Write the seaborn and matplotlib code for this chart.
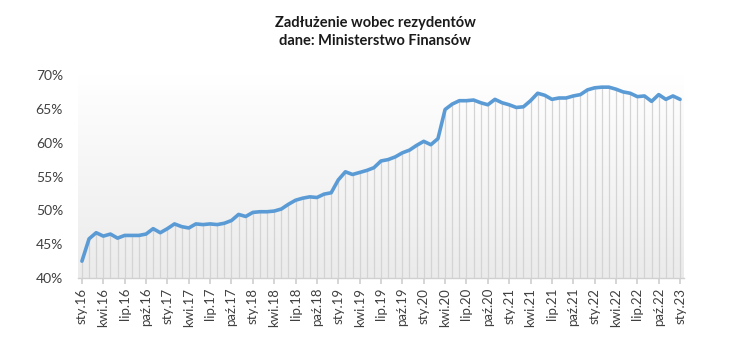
import numpy as np
import pandas as pd
import matplotlib
matplotlib.use("Agg")
import matplotlib.pyplot as plt
import seaborn as sns
from matplotlib.colors import LinearSegmentedColormap

# ---- data ----
months_pl = ["sty", "lut", "mar", "kwi", "maj", "cze", "lip", "sie", "wrz", "paź", "lis", "gru"]
years = [16, 17, 18, 19, 20, 21, 22, 23]
values = [
    42.5, 45.8, 46.7, 46.2, 46.5, 45.9, 46.3, 46.3, 46.3, 46.5, 47.3, 46.7,   # 2016
    47.3, 48.0, 47.6, 47.4, 48.0, 47.9, 48.0, 47.9, 48.1, 48.5, 49.4, 49.1,   # 2017
    49.7, 49.8, 49.8, 49.9, 50.2, 50.9, 51.5, 51.8, 52.0, 51.9, 52.4, 52.6,   # 2018
    54.5, 55.7, 55.3, 55.6, 55.9, 56.3, 57.3, 57.5, 57.9, 58.5, 58.9, 59.6,   # 2019
    60.2, 59.7, 60.6, 64.9, 65.7, 66.2, 66.2, 66.3, 65.9, 65.6, 66.4, 65.9,   # 2020
    65.6, 65.2, 65.3, 66.2, 67.3, 67.0, 66.4, 66.6, 66.6, 66.9, 67.1, 67.8,   # 2021
    68.1, 68.2, 68.2, 67.9, 67.5, 67.3, 66.8, 66.9, 66.1, 67.1, 66.4, 66.9,   # 2022
    66.4,                                                                     # 2023
]
labels = [f"{months_pl[i % 12]}.{years[i // 12]}" for i in range(len(values))]
title = "Zadłużenie wobec rezydentów\ndane: Ministerstwo Finansów"
y_ticks = [40, 45, 50, 55, 60, 65, 70]

df = pd.DataFrame({"idx": np.arange(len(values)), "val": values, "label": labels})

sns.set_theme(style="white")
plt.rcParams["font.family"] = ["Lato", "DejaVu Sans"]

fig = plt.figure(figsize=(7.5, 3.52), dpi=100)
ax = fig.add_axes([0.1045, 0.21, 0.807, 0.577])

# gradient background (white at top, light grey at bottom)
cmap = LinearSegmentedColormap.from_list("bg", ["#ffffff", "#ebebeb"])
ax.imshow(np.linspace(0, 1, 256).reshape(-1, 1), aspect="auto", cmap=cmap,
          extent=[-0.5, len(values) - 0.5, 40, 70], origin="upper", zorder=0)

# drop lines
ax.vlines(df["idx"], 40, df["val"], color="#d4d4d4", lw=0.9, zorder=1)

sns.lineplot(data=df, x="idx", y="val", ax=ax, color="#5b9bd5", lw=2.6, zorder=3)

ax.set_xlim(-0.5, len(values) - 0.5)
ax.set_ylim(40, 70)
ax.set_yticks(y_ticks)
ax.set_yticklabels([f"{t}%" for t in y_ticks], fontsize=10, color="#404040")
tick_idx = list(range(0, len(values), 3))
ax.set_xticks(tick_idx)
ax.set_xticklabels([labels[i] for i in tick_idx], rotation=90, fontsize=9.5, color="#404040")
ax.set_xlabel("")
ax.set_ylabel("")
for s in ["top", "right", "left"]:
    ax.spines[s].set_visible(False)
ax.spines["bottom"].set_color("#d0d0d0")
ax.spines["bottom"].set_linewidth(1)
ax.tick_params(axis="x", length=4, color="#d0d0d0", bottom=True, pad=3)
ax.tick_params(axis="y", length=0, pad=11)
ax.grid(False)

fig.text(0.5, 0.955, title, ha="center", va="top", fontsize=10.5, fontweight="bold",
         color="#1a1a1a", linespacing=1.35)

fig.savefig("out.png", dpi=100)
